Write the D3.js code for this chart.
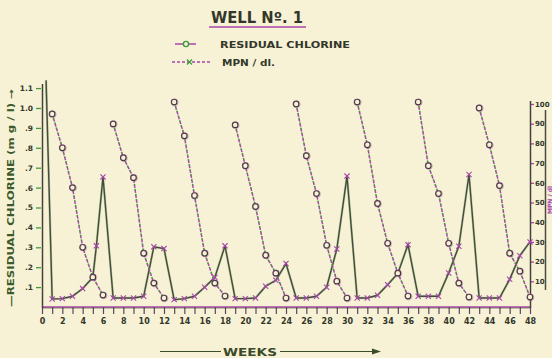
<!DOCTYPE html>
<html><head><meta charset="utf-8">
<script src="https://cdn.jsdelivr.net/npm/d3@7"></script>
<style>
html,body{margin:0;padding:0;background:#f7f2d5;}
svg{display:block;}
text{font-family:"DejaVu Sans",sans-serif;font-weight:bold;}
</style></head>
<body>
<script>
// ---- data ----
const chlorineWeeks = d3.range(1, 49);
const chlorineValues = [
  0.97, 0.80, 0.60, 0.30, 0.15, 0.06,
  0.92, 0.75, 0.65, 0.27, 0.12, 0.045,
  1.03, 0.86, 0.56, 0.27, 0.12, 0.055,
  0.915, 0.71, 0.505, 0.26, 0.17, 0.045,
  1.02, 0.76, 0.57, 0.31, 0.13, 0.045,
  1.03, 0.815, 0.52, 0.32, 0.17, 0.055,
  1.03, 0.71, 0.57, 0.32, 0.12, 0.05,
  1.00, 0.815, 0.61, 0.27, 0.18, 0.05
];
const cycleLength = 6;
const mpnWeeks = [0.4,1,2,3,4,5,5.35,6,7,8,9,10,11,12,13,14,15,16,17,18,19,20,21,22,23,24,
  25,26,27,28,29,30,31,32,33,34,35,36,37,38,39,40,41,42,43,44,45,46,47,48];
const mpnValues = [112,1,1.2,2.4,6.3,12,28,63,1.5,1.5,1.5,2.4,27.5,26.6,0.7,1.2,2.4,7,12,28,1.2,1.2,1.5,7.5,10.5,19,
  1.5,1.5,2.4,7,26.4,63.4,1.5,1.5,2.9,8.3,14,28.6,2.4,2.4,2.4,14.2,27.8,64.2,1.5,1.5,1.5,11,23,30];
const weekTicks = d3.range(0, 49, 1);
const leftTicks = [0.1,0.2,0.3,0.4,0.5,0.6,0.7,0.8,0.9,1.0,1.1];
const rightTicks = [10,20,30,40,50,60,70,80,90,100];
const title = "WELL N\u00BA. 1";
const legendLabels = ["RESIDUAL CHLORINE", "MPN / dl."];
const leftTitle = "\u2014RESIDUAL CHLORINE (m g / l) \u2192";
const rightTitle = "MPN / dl";
const xTitle = "WEEKS";

// ---- drawing ----
const W = 552, H = 358;
const ink = "#33372a", purple = "#a945ad", green = "#3f9a3a", bg = "#f7f2d5";
const svg = d3.select("body").append("svg").attr("width", W).attr("height", H);
svg.append("rect").attr("width", W).attr("height", H).attr("fill", bg);

const x = d3.scaleLinear().domain([0, 48]).range([42, 530]);
const yL = d3.scaleLinear().domain([0, 1.0]).range([307, 108]);
const yR = d3.scaleLinear().domain([0, 100]).range([301, 104]);

svg.append("clipPath").attr("id", "clip").append("rect")
  .attr("x", x(0) + 1).attr("y", 80).attr("width", x(48) - x(0) + 6).attr("height", 230);

// title
svg.append("text").attr("x", 211).attr("y", 23).attr("font-size", 15)
  .attr("textLength", 92).attr("lengthAdjust", "spacingAndGlyphs")
  .attr("fill", ink).text(title);
svg.append("line").attr("x1", 209).attr("x2", 306).attr("y1", 27).attr("y2", 27)
  .attr("stroke", purple).attr("stroke-width", 1.6);

// legend
const lg = svg.append("g");
lg.append("line").attr("x1", 175).attr("x2", 196).attr("y1", 44).attr("y2", 44)
  .attr("stroke", purple).attr("stroke-width", 1.5);
lg.append("circle").attr("cx", 186).attr("cy", 44).attr("r", 2.6)
  .attr("fill", bg).attr("stroke", green).attr("stroke-width", 1.4);
lg.append("text").attr("x", 220).attr("y", 47.5).attr("font-size", 8.5)
  .attr("textLength", 130).attr("lengthAdjust", "spacingAndGlyphs")
  .attr("fill", ink).text(legendLabels[0]);
lg.append("line").attr("x1", 172).attr("x2", 212).attr("y1", 62).attr("y2", 62)
  .attr("stroke", purple).attr("stroke-width", 1.4).attr("stroke-dasharray", "3,2");
lg.append("path").attr("d", "M187,59.5L192,64.5M192,59.5L187,64.5")
  .attr("stroke", green).attr("stroke-width", 1.2);
lg.append("text").attr("x", 222).attr("y", 65.5).attr("font-size", 8)
  .attr("textLength", 53).attr("lengthAdjust", "spacingAndGlyphs")
  .attr("fill", ink).text(legendLabels[1]);

// x axis
const xAxis = d3.axisBottom(x).tickValues(weekTicks)
  .tickFormat(d => d % 2 ? "" : d).tickSize(7).tickPadding(4);
const gx = svg.append("g").attr("transform", `translate(0,${yL(0)})`).call(xAxis);
gx.select(".domain").remove();
gx.selectAll("line").attr("stroke", "#5a4660").attr("stroke-width", 1.2);
gx.selectAll("text").attr("font-size", 8).attr("fill", ink).attr("font-family", "DejaVu Sans Condensed, DejaVu Sans");
svg.append("line").attr("x1", x(0)).attr("x2", x(48)).attr("y1", yL(0)).attr("y2", yL(0))
  .attr("stroke", purple).attr("stroke-width", 1.6);
svg.append("line").attr("x1", x(0)).attr("x2", x(48)).attr("y1", yL(0) + 1).attr("y2", yL(0) + 1)
  .attr("stroke", ink).attr("stroke-width", 0.8).attr("opacity", 0.7);

// left axis
const yAxisL = d3.axisLeft(yL).tickValues(leftTicks)
  .tickFormat(d => d >= 1 ? d.toFixed(1) : "." + Math.round(d * 10)).tickSize(5).tickPadding(3);
const gl = svg.append("g").attr("transform", `translate(${x(0) - 1},0)`).call(yAxisL);
gl.select(".domain").remove();
gl.selectAll("line").attr("stroke", green).attr("stroke-width", 1.3);
gl.selectAll("text").attr("font-size", 7.5).attr("fill", ink);
svg.append("line").attr("x1", x(0) + 0.5).attr("x2", x(0) + 0.5).attr("y1", 84).attr("y2", yL(0) + 1)
  .attr("stroke", "#44403a").attr("stroke-width", 1.5);

// right axis
const yAxisR = d3.axisRight(yR).tickValues(rightTicks).tickSize(4).tickPadding(1);
const gr = svg.append("g").attr("transform", `translate(${x(48)},0)`).call(yAxisR);
gr.select(".domain").remove();
gr.selectAll("line").attr("stroke", purple).attr("stroke-width", 1.3);
gr.selectAll("text").attr("font-size", 7).attr("fill", ink).attr("font-family", "DejaVu Sans Condensed, DejaVu Sans");
svg.append("line").attr("x1", x(48) + 0.5).attr("x2", x(48) + 0.5).attr("y1", 101).attr("y2", yL(0) + 1)
  .attr("stroke", "#44403a").attr("stroke-width", 1.5);

// axis titles
svg.append("text").attr("transform", "translate(14,198) rotate(-90)")
  .attr("text-anchor", "middle").attr("font-size", 8)
  .attr("textLength", 218).attr("lengthAdjust", "spacingAndGlyphs")
  .attr("fill", "#3d5a2c").text(leftTitle);
svg.append("line").attr("x1", 545.5).attr("x2", 545.5).attr("y1", 110).attr("y2", 290)
  .attr("stroke", "#4a4a40").attr("stroke-width", 1.5);
svg.append("text").attr("transform", "translate(551.5,200) rotate(-90)")
  .attr("text-anchor", "middle").attr("font-size", 6)
  .attr("fill", purple).text(rightTitle);

svg.append("text").attr("x", 250).attr("y", 356).attr("text-anchor", "middle")
  .attr("font-size", 10.5).attr("textLength", 54).attr("lengthAdjust", "spacingAndGlyphs")
  .attr("fill", "#3a4a2a").text(xTitle);
svg.append("line").attr("x1", 160).attr("x2", 221).attr("y1", 351.5).attr("y2", 351.5)
  .attr("stroke", "#3a4a2a").attr("stroke-width", 1.2);
svg.append("line").attr("x1", 280).attr("x2", 378).attr("y1", 351.5).attr("y2", 351.5)
  .attr("stroke", "#3a4a2a").attr("stroke-width", 1.2);
svg.append("path").attr("d", "M372,348.5L381,351.5L372,354.5Z").attr("fill", "#3a4a2a");

// MPN line (solid with x markers)
const mpn = mpnWeeks.map((w, i) => ({w, v: mpnValues[i]}));
const plot = svg.append("g").attr("clip-path", "url(#clip)");
const lineR = d3.line().x(d => x(d.w)).y(d => yR(d.v));
plot.append("path").attr("d", lineR(mpn)).attr("fill", "none")
  .attr("stroke", green).attr("stroke-width", 2.4).attr("opacity", 0.35);
plot.append("path").attr("d", lineR(mpn)).attr("fill", "none")
  .attr("stroke", "#4a4840").attr("stroke-width", 1.4);
plot.selectAll(".xm").data(mpn.filter(d => d.v < 100)).join("path")
  .attr("d", d => {const cx = x(d.w), cy = yR(d.v), s = 2.6;
    return `M${cx - s},${cy - s}L${cx + s},${cy + s}M${cx + s},${cy - s}L${cx - s},${cy + s}`;})
  .attr("stroke", purple).attr("stroke-width", 1.1);

// chlorine dashed lines with circles
const chl = chlorineWeeks.map((w, i) => ({w, v: chlorineValues[i], c: Math.floor(i / cycleLength)}));
const cycles = d3.groups(chl, d => d.c).map(g => g[1]);
const lineL = d3.line().x(d => x(d.w)).y(d => yL(d.v));
cycles.forEach(cy => {
  plot.append("path").attr("d", lineL(cy)).attr("fill", "none")
    .attr("stroke", purple).attr("stroke-width", 1.5).attr("stroke-dasharray", "3,2");
  plot.append("path").attr("d", lineL(cy)).attr("fill", "none")
    .attr("stroke", green).attr("stroke-width", 1.5).attr("stroke-dasharray", "1.5,3.5")
    .attr("stroke-dashoffset", 1);
});
plot.selectAll(".cm").data(chl).join("circle")
  .attr("cx", d => x(d.w)).attr("cy", d => yL(d.v)).attr("r", 2.8)
  .attr("fill", bg).attr("stroke", "#3a3a32").attr("stroke-width", 1.2);
plot.selectAll(".cm2").data(chl).join("circle")
  .attr("cx", d => x(d.w) + 0.6).attr("cy", d => yL(d.v) + 0.4).attr("r", 3.4)
  .attr("fill", "none").attr("stroke", purple).attr("stroke-width", 0.6).attr("opacity", 0.7);
</script>
</body></html>
